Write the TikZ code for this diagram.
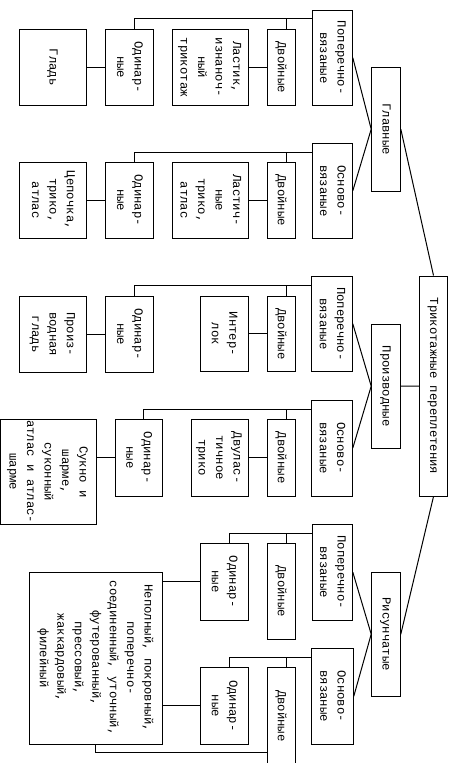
\documentclass[tikz,border=0pt]{standalone}
\usepackage{fontspec}
\usepackage{graphicx}
\newfontfamily\cour{Liberation Mono}
\usetikzlibrary{calc}
\newcommand{\rt}[1]{\rotatebox{-90}{\begin{tabular}{@{}c@{}}#1\end{tabular}}}
\newcommand{\tbox}[6]{\node[bx, minimum width={(#4-#2)*0.75pt}, minimum height={(#5-#3)*0.75pt}] (#1) at ({(#2+#4)/2},{(#3+#5)/2}) {\rt{#6}};}
\begin{document}
\begin{tikzpicture}[x=0.75pt, y=-0.75pt, line width=0.75pt,
  bx/.style={draw, rectangle, inner sep=0pt, font=\cour\fontsize{9.2}{13.1}\selectfont},
  ln/.style={draw, line width=0.75pt}]
\clip (0,0) rectangle (457,763);
% ---- Главные
\tbox{gl}{19.3}{29.3}{86.7}{105.3}{Гладь}
\tbox{o1}{105.3}{29.3}{153.3}{105.3}{Одинар-\\ные}
\tbox{la}{172.3}{29.3}{248.3}{105.3}{Ластик,\\изнаноч-\\ный\\трикотаж}
\tbox{d1}{267.3}{29.3}{295.3}{105.3}{Двойные}
\tbox{p1}{312.3}{10.3}{352.3}{105.3}{Поперечно-\\вязаные}
\tbox{glav}{371.7}{67.3}{400.3}{191}{Главные}
\tbox{ce}{19.3}{162.3}{86.7}{238.3}{Цепочка,\\трико,\\атлас}
\tbox{o2}{105.3}{162.3}{153.3}{238.3}{Одинар-\\ные}
\tbox{lt}{172.3}{162.3}{248.3}{238.3}{Ластич-\\ные\\трико,\\атлас}
\tbox{d2}{267.3}{162.3}{295.3}{238.3}{Двойные}
\tbox{b1}{312.3}{143.3}{352.3}{238.3}{Осново-\\вязаные}
% ---- Производные
\tbox{pg}{19.3}{296}{86.7}{372.3}{Произ-\\водная\\гладь}
\tbox{o3}{105.3}{296}{153.3}{372.3}{Одинар-\\ные}
\tbox{il}{200}{296}{248.3}{371.7}{Интер-\\лок}
\tbox{d3}{267.3}{296}{295.3}{371.7}{Двойные}
\tbox{p2}{311.7}{276}{352.3}{371.7}{Поперечно-\\вязаные}
\tbox{proizv}{371.7}{324}{400.3}{448.3}{Производные}
\tbox{tr}{419.3}{276}{447.7}{496}{Трикотажные переплетения}
\tbox{sk}{0}{419.3}{96.3}{524.3}{Сукно и\\шарме,\\суконный\\атлас и атлас-\\шарме}
\tbox{o4}{115}{419.3}{162.3}{496}{Одинар-\\ные}
\tbox{dv}{191}{419.3}{248.3}{496}{Двулас-\\тичное\\трико}
\tbox{d4}{267.3}{419.3}{295.3}{496}{Двойные}
\tbox{b2}{311.7}{400}{352.3}{496}{Осново-\\вязаные}
% ---- Рисунчатые
\tbox{p3}{312.3}{524.3}{352.3}{620}{Поперечно-\\вязаные}
\tbox{ris}{371.7}{572.3}{400.3}{696}{Рисунчатые}
\tbox{d5}{267.3}{543.3}{295.3}{639}{Двойные}
\tbox{o5}{200}{543.3}{248.3}{620}{Одинар-\\ные}
\tbox{big}{29.3}{572.3}{162.3}{744}{Неполный, покровный,\\поперечно-\\соединенный, уточный,\\футерованный,\\прессовый,\\жаккардовый,\\филейный}
\tbox{b3}{311.7}{648.3}{353.3}{744}{Осново-\\вязаные}
\tbox{o6}{200}{667.7}{248.3}{744}{Одинар-\\ные}
\tbox{d6}{267.3}{667.7}{295.3}{764}{Двойные}
% ---- trunks
\foreach \p/\o/\d/\s in {p1/o1/d1/9, b1/o2/d2/10, p2/o3/d3/10, b2/o4/d4/10, p3/o5/d5/10, b3/o6/d6/10}{
  \draw[ln] ($(\p.north west)+(0,\s)$) -| ($(\o.north)+(5,0)$);
  \draw[ln] ($(\d.north)+(5.4,0)$) -- ($(\d.north)+(5.4,0)!0!(\p.north west)$) |- ($(\p.north west)+(0,\s)$);
}
% ---- side links
\draw[ln] (gl.east) -- (o1.west);
\draw[ln] (la.east) -- (d1.west);
\draw[ln] (ce.east) -- (o2.west);
\draw[ln] (lt.east) -- (d2.west);
\draw[ln] (pg.east) -- (o3.west);
\draw[ln] (il.east) -- (d3.west);
\draw[ln] (o4.west) -- (o4.west -| sk.east);
\draw[ln] (dv.east) -- (d4.west);
\draw[ln] (o5.west) -- (o5.west -| big.east);
\draw[ln] ($(d5.south west)+(0,-10)$) -- ($(d5.south west)+(0,-10)$ -| big.east);
\draw[ln] (o6.west) -- (o6.west -| big.east);
\draw[ln] ($(d6.north west)+(0,85.6)$) -| (big.south);
% ---- main links
\draw[ln] (p1.east) -- (glav.west);
\draw[ln] (b1.east) -- (glav.west);
\draw[ln] (p2.east) -- (proizv.west);
\draw[ln] (b2.east) -- (proizv.west);
\draw[ln] (p3.east) -- (ris.west);
\draw[ln] (b3.east) -- (ris.west);
\draw[ln] (glav.east) -- (tr.north);
\draw[ln] (proizv.east) -- (tr.west);
\draw[ln] (ris.east) -- (tr.south);
\end{tikzpicture}
\end{document}
